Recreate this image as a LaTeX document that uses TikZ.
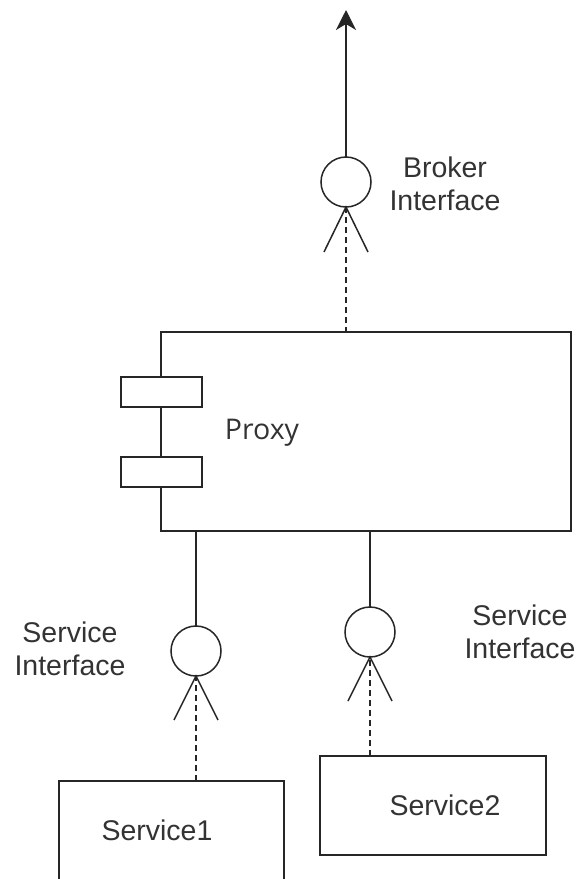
\documentclass[tikz,border=0pt]{standalone}
\usepackage{fontspec}
\setmainfont{Liberation Sans}
\newfontfamily\proxyfont{Open Sans}
\usetikzlibrary{arrows.meta}
\definecolor{txt}{rgb}{0.2,0.2,0.2}
\begin{document}
\begin{tikzpicture}[x=1pt,y=-1pt,
  every node/.style={inner sep=0pt,outer sep=0pt},
  ln/.style={draw=black!85,line width=1.8pt},
  box/.style={ln,rectangle,fill=white},
  iface/.style={draw=black!85,line width=1.5pt,circle,minimum size=50pt,fill=white},
  dsh/.style={draw=black!85,line width=1.8pt,dash pattern=on 6pt off 4pt},
  lbl/.style={text=txt,font=\fontsize{28.5}{33}\selectfont,align=center},
  chev/.style={draw=black!85,line width=1.5pt}]
\clip (0,0) rectangle (579,879);
\fill[white] (0,0) rectangle (579,879);
% proxy component
\node[box,minimum width=410pt,minimum height=199pt] (proxy) at (366,431.5) {};
\node[box,minimum width=81pt,minimum height=30pt] (port1) at (161.5,392) {};
\node[box,minimum width=81pt,minimum height=30pt] (port2) at (161.5,472) {};
\node[text=txt,font=\proxyfont\fontsize{28.5}{33}\selectfont] (proxylbl) at (262,433) {Proxy};
% broker interface
\node[iface] (bcirc) at (346,182) {};
\coordinate (top) at (346,10);
\draw[ln,-{Stealth[length=20pt,width=20pt,inset=6pt]}] (bcirc.north) -- (top);
\draw[chev] ([xshift=-22pt,yshift=-45pt]bcirc.south) -- (bcirc.south) -- ([xshift=22pt,yshift=-45pt]bcirc.south);
\draw[dsh] (bcirc.south) -- (bcirc.south |- proxy.north);
\node[lbl] (blbl) at (445,184) {Broker\\Interface};
% service 1
\node[iface] (s1circ) at (196,651) {};
\draw[ln] (s1circ.north |- proxy.south) -- (s1circ.north);
\draw[chev] ([xshift=-22pt,yshift=-44pt]s1circ.south) -- (s1circ.south) -- ([xshift=22pt,yshift=-44pt]s1circ.south);
\node[box,minimum width=225pt,minimum height=130pt] (service1) at (171.5,846) {};
\draw[dsh] (service1.north -| s1circ.south) -- (s1circ.south);
\node[lbl] (s1lbl) at (157,830) {Service1};
\node[lbl] (s1if) at (70,649) {Service\\Interface};
% service 2
\node[iface] (s2circ) at (370,632) {};
\draw[ln] (s2circ.north |- proxy.south) -- (s2circ.north);
\draw[chev] ([xshift=-22pt,yshift=-44pt]s2circ.south) -- (s2circ.south) -- ([xshift=22pt,yshift=-44pt]s2circ.south);
\node[box,minimum width=226pt,minimum height=99pt] (service2) at (433,805.5) {};
\draw[dsh] (service2.north -| s2circ.south) -- (s2circ.south);
\node[lbl] (s2lbl) at (445,805) {Service2};
\node[lbl] (s2if) at (520,632) {Service\\Interface};
\end{tikzpicture}
\end{document}
